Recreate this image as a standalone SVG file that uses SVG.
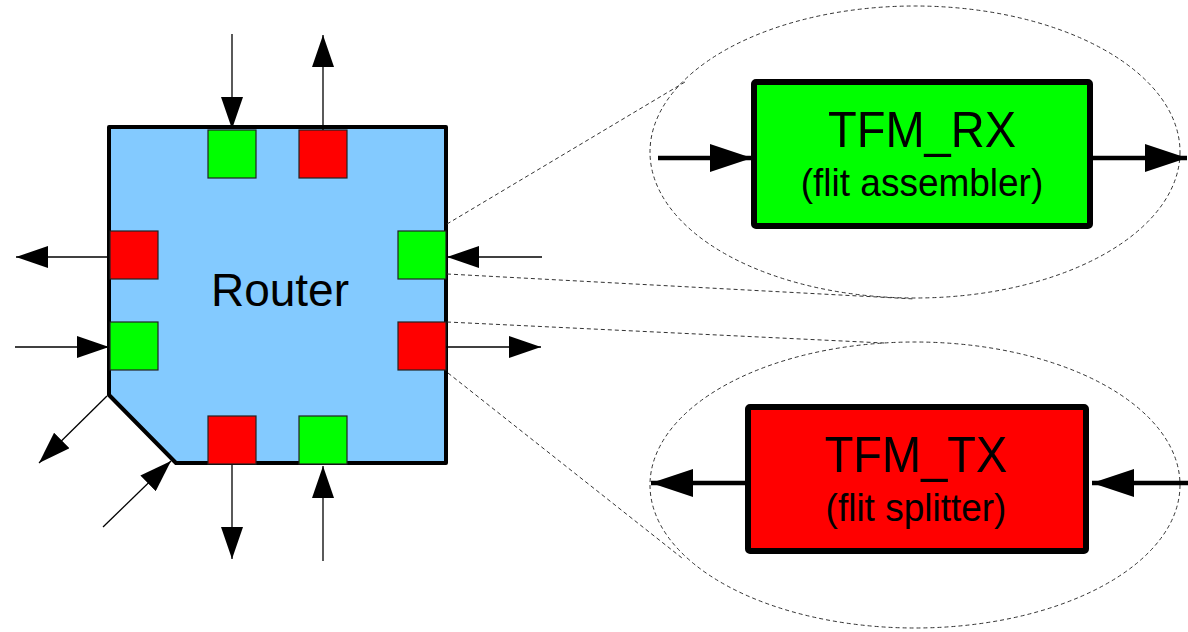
<svg xmlns="http://www.w3.org/2000/svg" width="1188" height="632" viewBox="0 0 1188 632">
<style>
.port{stroke:#222;stroke-width:1.2}
.g{fill:#00ff00}
.r{fill:#ff0000}
.thin{stroke:#000;stroke-width:1.3;fill:none;marker-end:url(#ah)}
.thick{stroke:#000;stroke-width:4.5;fill:none;marker-end:url(#ahb)}
.dash{stroke:#333;stroke-width:1;fill:none;stroke-dasharray:4 3}
.lbl{font-family:"Liberation Sans",Arial,sans-serif;fill:#000;text-anchor:middle}
</style>
<defs>
<marker id="ah" viewBox="0 0 32 22" refX="32" refY="11" markerWidth="32" markerHeight="22" markerUnits="userSpaceOnUse" orient="auto"><path d="M0,0 L32,11 L0,22 z" fill="#000"/></marker>
<marker id="ahb" viewBox="0 0 42 28" refX="42" refY="14" markerWidth="42" markerHeight="28" markerUnits="userSpaceOnUse" orient="auto"><path d="M0,0 L42,14 L0,28 z" fill="#000"/></marker>
</defs>
<rect width="1188" height="632" fill="#fff"/>
<g id="zoom-ellipses">
<ellipse class="dash" cx="915" cy="152" rx="265" ry="146"/>
<ellipse class="dash" cx="915" cy="485" rx="265" ry="143"/>
</g>
<g id="router">
<polygon points="109,127 446,127 446,463 176,463 109,395" fill="#83caff" stroke="#000" stroke-width="4" stroke-linejoin="round"/>
<text class="lbl" x="280" y="306" font-size="46">Router</text>
</g>
<g id="ports">
<rect id="port-n-in" class="port g" x="208" y="130" width="48" height="48"/>
<rect id="port-n-out" class="port r" x="299" y="130" width="48" height="48"/>
<rect id="port-w-out" class="port r" x="110" y="231" width="48" height="48"/>
<rect id="port-e-in" class="port g" x="398" y="231" width="48" height="48"/>
<rect id="port-w-in" class="port g" x="110" y="322" width="48" height="48"/>
<rect id="port-e-out" class="port r" x="398" y="322" width="48" height="48"/>
<rect id="port-s-out" class="port r" x="208" y="416" width="48" height="48"/>
<rect id="port-s-in" class="port g" x="299" y="416" width="48" height="48"/>
</g>
<g id="tfm-rx">
<rect x="754" y="82" width="336" height="144" rx="2" fill="#00ff00" stroke="#000" stroke-width="6"/>
<text class="lbl" font-size="47" transform="translate(922,147) scale(1,1.07)">TFM_RX</text>
<text class="lbl" font-size="37" transform="translate(922,196) scale(1,1.07)">(flit assembler)</text>
</g>
<g id="tfm-tx">
<rect x="748" y="407" width="338" height="144" rx="2" fill="#ff0000" stroke="#000" stroke-width="6"/>
<text class="lbl" font-size="47" transform="translate(916,472) scale(1,1.07)">TFM_TX</text>
<text class="lbl" font-size="37" transform="translate(916,521) scale(1,1.07)">(flit splitter)</text>
</g>
<g id="connectors">
<line class="thin" x1="232" y1="34" x2="232" y2="129"/>
<line class="thin" x1="323" y1="130" x2="323" y2="35"/>
<line class="thin" x1="109" y1="257" x2="16" y2="257"/>
<line class="thin" x1="542" y1="257" x2="447" y2="257"/>
<line class="thin" x1="15" y1="347" x2="109" y2="347"/>
<line class="thin" x1="446" y1="347" x2="541" y2="347"/>
<line class="thin" x1="232" y1="465" x2="232" y2="559"/>
<line class="thin" x1="323" y1="561" x2="323" y2="466"/>
<line class="thin" x1="107" y1="396" x2="39" y2="463"/>
<line class="thin" x1="103" y1="527" x2="171" y2="461"/>
<line class="thick" x1="658" y1="158" x2="752" y2="158"/>
<line class="thick" x1="1093" y1="158" x2="1187" y2="158"/>
<line class="thick" x1="745" y1="483" x2="651" y2="483"/>
<line class="thick" x1="1188" y1="483" x2="1092" y2="483"/>
<line class="dash" x1="447" y1="224" x2="685" y2="82"/>
<line class="dash" x1="447" y1="274" x2="915" y2="299"/>
<line class="dash" x1="447" y1="322" x2="884" y2="343"/>
<line class="dash" x1="448" y1="373" x2="682" y2="558"/>
</g>
</svg>
